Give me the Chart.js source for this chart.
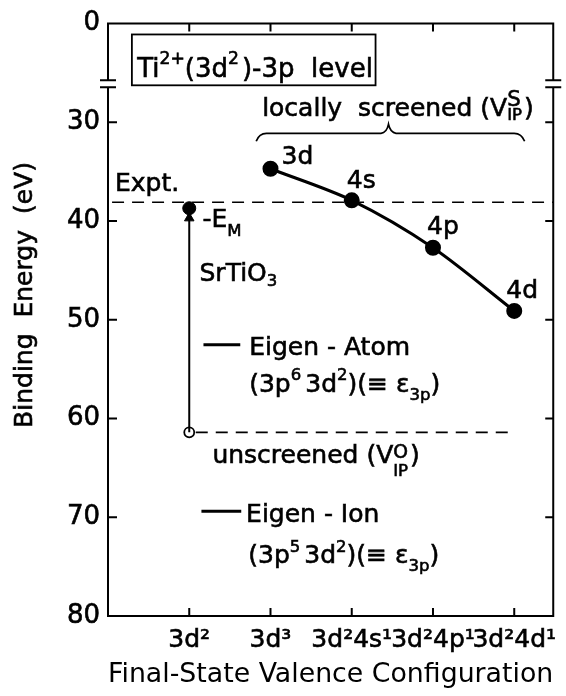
<!DOCTYPE html>
<html>
<head>
<meta charset="utf-8">
<title>Ti 3p level binding energy</title>
<script src="https://cdn.jsdelivr.net/npm/chart.js@4.4.1/dist/chart.umd.min.js"></script>
<style>
  html, body { margin: 0; padding: 0; background: #fff; }
  .wrap { width: 566px; height: 696px; position: relative; }
</style>
</head>
<body>
<div class="wrap"><canvas id="levelChart"></canvas></div>
<script>
// final-state configurations, placed at x = 1..5
const configLabels = ['3d²', '3d³', '3d²4s¹', '3d²4p¹', '3d²4d¹'];

// locally screened eigenvalues (3d³ ... 3d²4d¹)
const screenedSlots = [2, 3, 4, 5];
const screenedEnergy = [34.7, 37.9, 42.7, 49.1];
const screenedOrbitals = ['3d', '4s', '4p', '4d'];

// 3d² column: unscreened value and value shifted by -E_M
const madelungEnergy = 38.7;
const unscreenedEnergy = 61.4;
const exptEnergy = 38.1;

// broken axis: the top tick stands for 0
const energyTicks = [20, 30, 40, 50, 60, 70, 80];
const energyTickLabels = ['0', '30', '40', '50', '60', '70', '80'];
const breakFrom = 25.75;
const breakTo = 26.45;

const FONT = '"DejaVu Sans", sans-serif';
const X_MAX = 5.48;
const TEXT_WEIGHT = 0.6;

function font(size) {
  return `${size}px ${FONT}`;
}

function put(ctx, t, x, y) {
  ctx.fillText(t, x, y);
  ctx.strokeText(t, x, y);
}

// text with super / subscripts, left aligned at baseline y
function rich(ctx, x, y, parts, size) {
  let cx = x;
  ctx.textAlign = 'left';
  ctx.textBaseline = 'alphabetic';
  ctx.lineWidth = TEXT_WEIGHT;
  parts.forEach(p => {
    if (typeof p === 'string') {
      ctx.font = font(size);
      put(ctx, p, cx, y);
      cx += ctx.measureText(p).width;
      return;
    }
    let w = 0;
    if (p.sup) {
      ctx.font = font(size * (p.supSize || 0.62));
      put(ctx, p.sup, cx, y - size * (p.supUp || 0.45));
      w = Math.max(w, ctx.measureText(p.sup).width);
    }
    if (p.sub) {
      ctx.font = font(size * (p.subSize || 0.62));
      put(ctx, p.sub, cx, y + size * (p.subDown || 0.25));
      w = Math.max(w, ctx.measureText(p.sub).width);
    }
    cx += w + (p.gap || 0);
  });
  return cx;
}

const annotations = {
  id: 'annotations',
  afterDatasetsDraw(chart) {
    const { ctx, chartArea: a, scales: { x, y } } = chart;
    const px = v => x.getPixelForValue(v);
    const py = v => y.getPixelForValue(v);
    const b1 = py(breakFrom);
    const b2 = py(breakTo);

    ctx.save();
    // white gap of the axis break
    ctx.fillStyle = '#fff';
    ctx.fillRect(a.left - 3, b1, 6, b2 - b1);
    ctx.fillRect(a.right - 3, b1, 6, b2 - b1);

    ctx.strokeStyle = '#000';
    ctx.lineWidth = 2;
    ctx.lineCap = 'butt';
    ctx.beginPath();
    ctx.moveTo(a.left, a.top); ctx.lineTo(a.right, a.top);
    ctx.moveTo(a.left, a.bottom); ctx.lineTo(a.right, a.bottom);
    [a.left, a.right].forEach(sx => {
      ctx.moveTo(sx, a.top - 1); ctx.lineTo(sx, b1);
      ctx.moveTo(sx, b2); ctx.lineTo(sx, a.bottom + 1);
      ctx.moveTo(sx - 8, b1); ctx.lineTo(sx + 8, b1);
      ctx.moveTo(sx - 8, b2); ctx.lineTo(sx + 8, b2);
    });
    energyTicks.slice(1, -1).forEach(v => {
      ctx.moveTo(a.left, py(v)); ctx.lineTo(a.left + 9, py(v));
      ctx.moveTo(a.right, py(v)); ctx.lineTo(a.right - 8, py(v));
    });
    configLabels.forEach((_, i) => {
      const cx = px(i + 1);
      ctx.moveTo(cx, a.top); ctx.lineTo(cx, a.top + 8);
      ctx.moveTo(cx, a.bottom); ctx.lineTo(cx, a.bottom - 8);
    });
    ctx.stroke();

    // title box
    ctx.lineWidth = 1.8;
    ctx.strokeRect(px(0.294), py(21.1), px(3.293) - px(0.294), py(26.25) - py(21.1));
    ctx.fillStyle = '#000';
    rich(ctx, px(0.36), py(25.45), ['Ti', { sup: '2+', supSize: 0.66, supUp: 0.52 }, '(3d', { sup: '2', supSize: 0.66, supUp: 0.52, gap: 3 }, ')-3p  level'], 26);

    // brace over the screened points
    ctx.lineWidth = 1.7;
    ctx.beginPath();
    ctx.moveTo(px(1.824), py(31.92));
    ctx.quadraticCurveTo(px(1.86), py(31.11), px(1.95), py(31.11));
    ctx.lineTo(px(3.36), py(31.11));
    ctx.quadraticCurveTo(px(3.43), py(31.05), px(3.452), py(30.2));
    ctx.quadraticCurveTo(px(3.475), py(31.05), px(3.545), py(31.11));
    ctx.lineTo(px(5.0), py(31.11));
    ctx.quadraticCurveTo(px(5.09), py(31.11), px(5.128), py(31.92));
    ctx.stroke();

    rich(ctx, px(1.897), py(29.39), ['locally  screened (V', { sup: 'S', sub: 'IP', supSize: 0.85, supUp: 0.42, subSize: 0.66, subDown: 0.15, gap: 2 }, ')'], 25);

    // orbital tags next to the screened points
    const tagOffsets = [[11, -5], [-5, -12], [-6, -14], [-8, -13]];
    screenedOrbitals.forEach((t, i) => {
      rich(ctx, px(screenedSlots[i]) + tagOffsets[i][0], py(screenedEnergy[i]) + tagOffsets[i][1], [t], 25);
    });

    rich(ctx, px(0.086), py(36.97), ['Expt.'], 25);
    rich(ctx, px(1.163), py(40.6), ['-E', { sub: 'M', subSize: 0.66, subDown: 0.35 }], 25);
    rich(ctx, px(1.126), py(46.06), ['SrTiO', { sub: '3', subSize: 0.66, subDown: 0.22 }], 25);

    // Eigen-Atom / Eigen-Ion legend
    ctx.lineWidth = 3;
    ctx.beginPath();
    ctx.moveTo(px(1.175), py(52.53)); ctx.lineTo(px(1.628), py(52.53));
    ctx.moveTo(px(1.15), py(69.39)); ctx.lineTo(px(1.64), py(69.39));
    ctx.stroke();
    rich(ctx, px(1.738), py(53.54), ['Eigen - Atom'], 25);
    rich(ctx, px(1.738), py(57.27), ['(3p', { sup: '6', supSize: 0.66, gap: 4 }, '3d', { sup: '2', supSize: 0.66 }, ')(≡ ε', { sub: '3p', subSize: 0.66, subDown: 0.32 }, ')'], 25);
    rich(ctx, px(1.285), py(64.55), ['unscreened (V', { sup: 'O', sub: 'IP', supSize: 0.75, supUp: 0.2, subSize: 0.66, subDown: 0.5, gap: 2 }, ')'], 25);
    rich(ctx, px(1.70), py(70.5), ['Eigen - Ion'], 25);
    rich(ctx, px(1.726), py(74.65), ['(3p', { sup: '5', supSize: 0.66, gap: 4 }, '3d', { sup: '2', supSize: 0.66 }, ')(≡ ε', { sub: '3p', subSize: 0.66, subDown: 0.32 }, ')'], 25);

    // y axis title
    ctx.save();
    ctx.translate(25, 295);
    ctx.rotate(-Math.PI / 2);
    ctx.font = font(25);
    ctx.textAlign = 'center';
    ctx.textBaseline = 'middle';
    ctx.lineWidth = TEXT_WEIGHT;
    put(ctx, 'Binding  Energy  (eV)', 0, 0);
    ctx.restore();

    ctx.restore();
  }
};

const screenedPoints = screenedSlots.map((s, i) => ({ x: s, y: screenedEnergy[i] }));

const chart = new Chart(document.getElementById('levelChart'), {
  type: 'line',
  data: {
    datasets: [
      {
        data: [{ x: 0.05, y: exptEnergy }, { x: X_MAX, y: exptEnergy }],
        borderColor: '#000',
        borderWidth: 1.6,
        borderDash: [12, 8],
        pointRadius: 0
      },
      {
        data: [{ x: 1.08, y: unscreenedEnergy }, { x: 4.92, y: unscreenedEnergy }],
        borderColor: '#000',
        borderWidth: 1.6,
        borderDash: [12, 8],
        pointRadius: 0
      },
      {
        data: [{ x: 1, y: unscreenedEnergy }, { x: 1, y: madelungEnergy }],
        borderColor: '#000',
        borderWidth: 2,
        pointRadius: 0
      },
      {
        // arrow head just below the shifted point
        data: [{ x: 1, y: madelungEnergy + 1.0 }],
        pointStyle: 'triangle',
        pointRadius: 5.5,
        backgroundColor: '#000',
        borderColor: '#000',
        showLine: false
      },
      {
        data: screenedPoints,
        borderColor: '#000',
        borderWidth: 3,
        tension: 0.3,
        pointRadius: 6.5,
        pointBackgroundColor: '#000',
        pointBorderColor: '#000'
      },
      {
        data: [{ x: 1, y: madelungEnergy }],
        showLine: false,
        pointRadius: 6.5,
        pointBackgroundColor: '#000',
        pointBorderColor: '#000'
      },
      {
        data: [{ x: 1, y: unscreenedEnergy }],
        showLine: false,
        pointRadius: 5,
        pointBackgroundColor: '#fff',
        pointBorderColor: '#000',
        pointBorderWidth: 1.8
      }
    ]
  },
  options: {
    responsive: true,
    maintainAspectRatio: false,
    animation: false,
    layout: { padding: { top: 22, right: 11, left: 0, bottom: 0 } },
    plugins: {
      legend: { display: false },
      tooltip: { enabled: false }
    },
    scales: {
      x: {
        type: 'linear',
        min: 0,
        max: X_MAX,
        afterBuildTicks: s => { s.ticks = configLabels.map((_, i) => ({ value: i + 1 })); },
        afterFit: s => { s.height = 80; },
        grid: { display: false, drawTicks: false },
        border: { display: false },
        ticks: {
          autoSkip: false,
          maxRotation: 0,
          padding: 9,
          color: '#000',
          textStrokeColor: '#000',
          textStrokeWidth: TEXT_WEIGHT,
          font: { family: FONT, size: 25 },
          callback: v => configLabels[v - 1]
        },
        title: {
          display: true,
          text: 'Final-State Valence Configuration',
          color: '#000',
          font: { family: FONT, size: 27 },
          padding: { top: 0, bottom: 5 }
        }
      },
      y: {
        type: 'linear',
        reverse: true,
        min: 20,
        max: 80,
        afterBuildTicks: s => { s.ticks = energyTicks.map(v => ({ value: v })); },
        afterFit: s => { s.width = 108; },
        grid: { display: false, drawTicks: false },
        border: { display: false },
        ticks: {
          padding: 8,
          color: '#000',
          textStrokeColor: '#000',
          textStrokeWidth: TEXT_WEIGHT,
          font: { family: FONT, size: 26 },
          callback: v => energyTickLabels[energyTicks.indexOf(v)]
        }
      }
    }
  },
  plugins: [annotations]
});
</script>
</body>
</html>
